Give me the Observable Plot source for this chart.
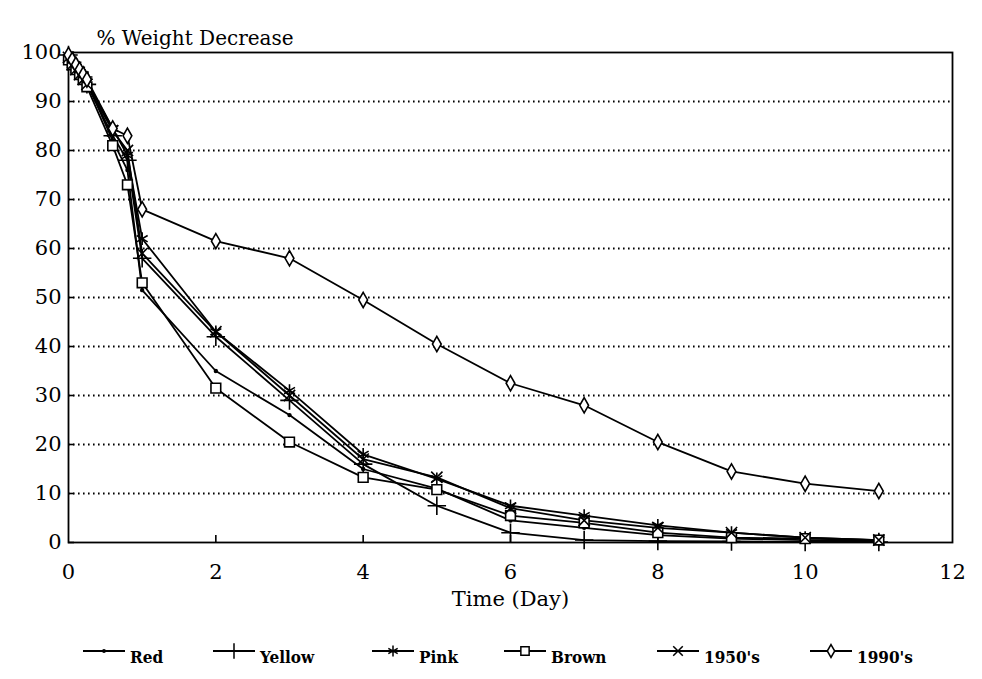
<!DOCTYPE html>
<html>
<head>
<meta charset="utf-8">
<script src="https://cdn.jsdelivr.net/npm/d3@7"></script>
<script src="https://cdn.jsdelivr.net/npm/@observablehq/plot@0.6"></script>
<style>
  html, body { margin: 0; padding: 0; background: #fff; }
  #wrap { position: relative; width: 982px; height: 679px; overflow: hidden; }
  #chart { position: absolute; left: 0; top: 0; }
  #legend { position: absolute; left: 0; top: 636px; width: 982px; height: 34px; font-family: "DejaVu Serif", serif; font-stretch: condensed; font-weight: bold; font-size: 17px; }
  .item { position: absolute; top: 0; height: 34px; display: flex; align-items: center; }
  .item span { margin-left: 5px; margin-top: 8px; }
</style>
</head>
<body>
<div id="wrap">
  <div id="chart"></div>
  <div id="legend"></div>
</div>
<script>
// ---- data ----
const days = [0, 0.05, 0.1, 0.15, 0.2, 0.25, 0.6, 0.8, 1, 2, 3, 4, 5, 6, 7, 8, 9, 10, 11];
const seriesNames = ["Red", "Yellow", "Pink", "Brown", "1950's", "1990's"];
const red    = [100, 98.5, 97.5, 96.5, 95.5, 94, 82, 76, 51.5, 35, 26, 15, 11, 4.5, 3, 1.5, 0.8, 0.5, 0.3];
const yellow = [99.5, 98, 97, 96, 95, 93.5, 83, 78, 58, 42, 29, 16, 7.5, 2, 0.5, 0.3, 0.2, 0.1, 0.1];
const pink   = [99, 98, 97, 96, 95, 94, 84.5, 79, 62, 43, 31, 18, 13, 7.5, 5.5, 3.5, 2, 1, 0.5];
const brown  = [98.5, 97.5, 96.5, 95.5, 94.5, 93, 81, 73, 53, 31.5, 20.5, 13.3, 10.8, 5.5, 4, 2, 1, 0.8, 0.5];
const s1950  = [99, 97.5, 96.5, 95.5, 94.5, 93.5, 84, 80, 59, 43, 30, 17, 13.3, 7, 4.5, 3, 2, 1, 0.5];
const s1990  = [99.5, 98.5, 97.5, 96.5, 95.5, 94.5, 84.5, 83, 68, 61.5, 58, 49.5, 40.5, 32.5, 28, 20.5, 14.5, 12, 10.5];
const xTicks = [0, 2, 4, 6, 8, 10, 12];
const yTicks = [0, 10, 20, 30, 40, 50, 60, 70, 80, 90, 100];
const gridTicks = [10, 20, 30, 40, 50, 60, 70, 80, 90];
const yTitle = "% Weight Decrease";
const xTitle = "Time (Day)";

// ---- styles ----
const symbols = ["circle", "plus", "asterisk", "square", "times", "diamond"];
const symFill = ["black", "none", "none", "white", "none", "white"];
const symR = [1.4, 6, 6, 5.5, 5.2, 4.6];
const serif = "DejaVu Serif, serif";

const values = [red, yellow, pink, brown, s1950, s1990];
const rows = [];
seriesNames.forEach((name, i) => {
  values[i].forEach((v, j) => rows.push({series: name, day: days[j], value: v}));
});

const plot = Plot.plot({
  width: 982,
  height: 620,
  marginTop: 52,
  marginLeft: 68,
  marginRight: 30,
  marginBottom: 78,
  style: {fontFamily: serif, fontSize: "21px", color: "black", background: "transparent"},
  x: {domain: [0, 12]},
  y: {domain: [0, 100]},
  marks: [
    Plot.gridY(gridTicks, {stroke: "black", strokeOpacity: 1, strokeWidth: 2, strokeDasharray: "1.6,3.4"}),
    Plot.frame({stroke: "black", strokeWidth: 1.8}),
    Plot.axisY(yTicks, {tickSize: 0, tickPadding: 7, fontSize: 21, fontFamily: serif, label: null}),
    Plot.axisY(yTicks, {tickSize: 6, dx: 6, tickFormat: () => "", label: null, strokeWidth: 1.6}),
    Plot.axisX(xTicks, {tickSize: 0, tickPadding: 22, fontSize: 21, fontFamily: serif, label: xTitle, labelAnchor: "center", labelArrow: "none", labelOffset: 63}),
    Plot.axisX(xTicks.slice(1, -1), {tickSize: 7, dy: -7, tickFormat: () => "", label: null, strokeWidth: 1.6}),
    Plot.text([yTitle], {frameAnchor: "top-left", dy: -22, dx: 28, textAnchor: "start", fontSize: 20, fontFamily: serif}),
    Plot.line(rows, {x: "day", y: "value", z: "series", stroke: "black", strokeWidth: 1.8}),
    ...seriesNames.map((name, i) =>
      Plot.dot(rows.filter(d => d.series === name), {
        x: "day", y: "value", symbol: () => symbols[i], r: symR[i],
        stroke: "black", fill: symFill[i], strokeWidth: 1.6
      })
    )
  ]
});
document.getElementById("chart").appendChild(plot);

// ---- legend ----
const legendLeft = [83, 213, 372, 504, 657, 810];
const legend = d3.select("#legend");
const symMap = {circle: d3.symbolCircle, plus: d3.symbolPlus, asterisk: d3.symbolAsterisk,
                square: d3.symbolSquare, times: d3.symbolTimes, diamond: d3.symbolDiamond};
seriesNames.forEach((name, i) => {
  const item = legend.append("div").attr("class", "item").style("left", legendLeft[i] + "px");
  const svg = item.append("svg").attr("width", 42).attr("height", 34);
  svg.append("line").attr("x1", 0).attr("x2", 42).attr("y1", 15).attr("y2", 15)
    .attr("stroke", "black").attr("stroke-width", 1.8);
  const r = symR[i] * 0.85;
  svg.append("path").attr("transform", "translate(21,15)")
    .attr("d", d3.symbol(symMap[symbols[i]], Math.PI * r * r)())
    .attr("stroke", "black").attr("stroke-width", 1.5).attr("fill", symFill[i]);
  item.append("span").text(name);
});
</script>
</body>
</html>
